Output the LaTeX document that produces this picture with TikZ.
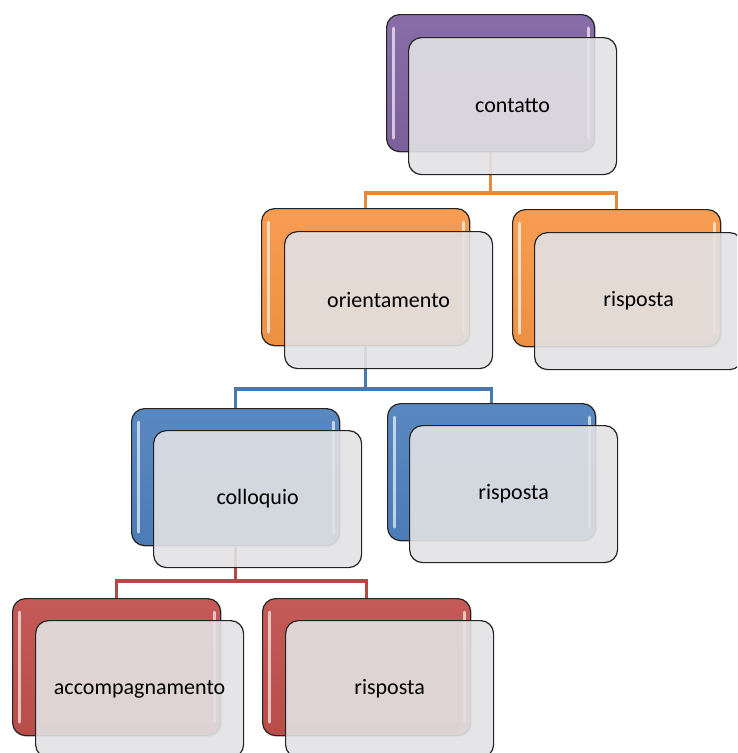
\documentclass[tikz,border=0pt]{standalone}
\usepackage{fontspec}
\setmainfont{Carlito}
\usetikzlibrary{shadows}
\definecolor{purp}{RGB}{128,100,162}
\definecolor{oran}{RGB}{247,150,70}
\definecolor{blu}{RGB}{79,129,189}
\definecolor{redd}{RGB}{192,80,77}
\definecolor{frontfill}{RGB}{226,226,228}
\definecolor{edge}{RGB}{35,35,35}
\tikzset{
  backbox/.style={rectangle, rounded corners=13pt, minimum width=208pt, minimum height=137pt,
    anchor=north west, draw=edge, line width=1.2pt, top color=#1!94!white, bottom color=#1!96!black,
    drop shadow={opacity=0.35, shadow xshift=1.5pt, shadow yshift=-1.5pt}},
  frontbox/.style={rectangle, rounded corners=13pt, minimum width=208pt, minimum height=137pt,
    anchor=north west, draw=edge, line width=1.2pt, fill=frontfill, fill opacity=0.9,
    text opacity=1, text=black, font=\fontsize{22}{26}\selectfont},
  conn/.style={line width=3.5pt, draw=#1},
  hl/.style={white, opacity=0.65, line width=3pt, line cap=round}
}
\newcommand{\gloss}[1]{%
  \draw[hl] ([xshift=7pt,yshift=-14pt]#1.north west) -- ([xshift=7pt,yshift=14pt]#1.south west);
  \draw[hl] ([xshift=-7pt,yshift=-14pt]#1.north east) -- ([xshift=-7pt,yshift=14pt]#1.south east);}
\begin{document}
\begin{tikzpicture}[x=1pt,y=-1pt]
\useasboundingbox (0,0) rectangle (737,753);
\clip (0,0) rectangle (737,753);
% back boxes
\node[backbox=purp] (cB) at (386,14) {};
\node[backbox=oran] (oB) at (261,208) {};
\node[backbox=oran] (r1B) at (512,209) {};
\node[backbox=blu] (qB) at (131,408) {};
\node[backbox=blu] (r2B) at (387,403) {};
\node[backbox=redd] (aB) at (12,598) {};
\node[backbox=redd] (r3B) at (262,598) {};
% connectors
\draw[conn=oran!92!black] (cB.south) -- ++(0,41) coordinate (cJ) -| (oB.north);
\draw[conn=oran!92!black] (cJ) -| (r1B.north);
\draw[conn=blu!92!black] (oB.south) -- ++(0,43) coordinate (oJ) -| (qB.north);
\draw[conn=blu!92!black] (oJ) -| (r2B.north);
\draw[conn=redd!92!black] (qB.south) -- ++(0,35) coordinate (qJ) -| (aB.north);
\draw[conn=redd!92!black] (qJ) -| (r3B.north);
% gloss highlights
\gloss{cB}\gloss{oB}\gloss{r1B}\gloss{qB}\gloss{r2B}\gloss{aB}\gloss{r3B}
% front boxes
\node[frontbox] (cF) at (408,37) {contatto};
\node[frontbox] (oF) at (284,231) {orientamento};
\node[frontbox] (r1F) at (534,232) {risposta};
\node[frontbox] (qF) at (153,430) {colloquio};
\node[frontbox] (r2F) at (409,425) {risposta};
\node[frontbox] (aF) at (35,620) {accompagnamento};
\node[frontbox] (r3F) at (285,620) {risposta};
\end{tikzpicture}
\end{document}
